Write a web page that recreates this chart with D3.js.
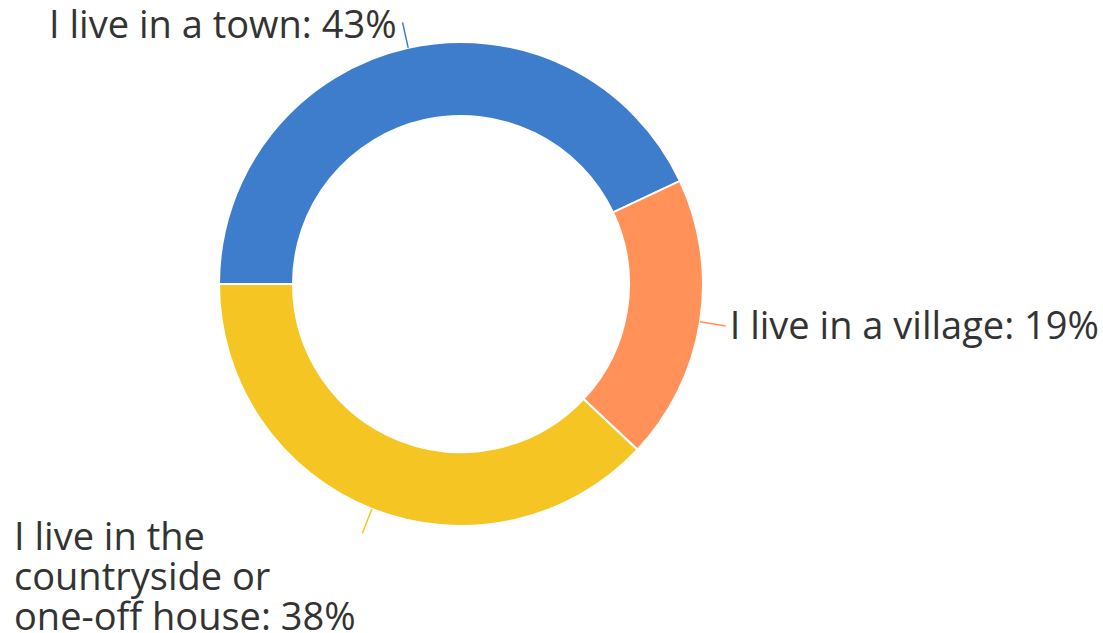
<!DOCTYPE html>
<html>
<head>
<meta charset="utf-8">
<script src="https://cdn.jsdelivr.net/npm/d3@7"></script>
<style>
  html, body { margin: 0; padding: 0; background: #fff; }
  svg { display: block; }
</style>
</head>
<body>
<div id="container"></div>
<script>
(function(){

    const categories = ["I live in a town", "I live in a village", "I live in the countryside or one-off house"];
    const values     = [43, 19, 38];
    const colors     = ["#3d7dcc", "#ff9159", "#f4c523"];
    // label lines, already wrapped like the original
    const labelLines = [
        ["I live in a town: 43%"],
        ["I live in a village: 19%"],
        ["I live in the", "countryside or", "one-off house: 38%"]
    ];

    const width = 1103;
    const height = 633;
    const cx = 461, cy = 284;
    const outerR = 242, innerR = 168;
    const leader = 26;
    const fontSize = 38;
    const lineH = 40;

    const data = categories.map((c, i) => ({name: c, value: values[i], color: colors[i], lines: labelLines[i]}));

    const svg = d3.select("#container").append("svg")
        .attr("width", width)
        .attr("height", height);

    const g = svg.append("g").attr("transform", `translate(${cx},${cy})`);

    const pie = d3.pie()
        .value(d => d.value)
        .sort(null)
        .startAngle(-Math.PI / 2)
        .endAngle(3 * Math.PI / 2);

    const arc = d3.arc().innerRadius(innerR).outerRadius(outerR);
    const arcs = pie(data);

    g.selectAll("path.slice")
        .data(arcs)
        .join("path")
        .attr("class", "slice")
        .attr("d", arc)
        .attr("fill", d => d.data.color)
        .attr("stroke", "#fff")
        .attr("stroke-width", 2);

    function pt(a, r) { return [r * Math.sin(a), -r * Math.cos(a)]; }

    // leader lines
    g.selectAll("line.leader")
        .data(arcs)
        .join("line")
        .attr("class", "leader")
        .attr("x1", d => pt((d.startAngle + d.endAngle) / 2, outerR)[0])
        .attr("y1", d => pt((d.startAngle + d.endAngle) / 2, outerR)[1])
        .attr("x2", d => pt((d.startAngle + d.endAngle) / 2, outerR + leader)[0])
        .attr("y2", d => pt((d.startAngle + d.endAngle) / 2, outerR + leader)[1])
        .attr("stroke", d => d.data.color)
        .attr("stroke-width", 1.5);

    // labels
    const labels = g.selectAll("text.lbl")
        .data(arcs)
        .join("text")
        .attr("class", "lbl")
        .style("font-family", "'Open Sans', sans-serif")
        .style("font-size", fontSize + "px")
        .attr("fill", "#333");

    labels.each(function(d, i) {
        const mid = (d.startAngle + d.endAngle) / 2;
        const [ex, ey] = pt(mid, outerR + leader);
        const t = d3.select(this);
        let x, y, anchor;
        if (i === 0) { anchor = "end"; x = ex - 6; y = ey + 16; }
        else if (i === 1) { anchor = "start"; x = ex + 4; y = ey + 13; }
        else { anchor = "start"; x = 14 - cx; y = ey + 17; }
        t.attr("text-anchor", anchor);
        d.data.lines.forEach((ln, k) => {
            t.append("tspan").attr("x", x).attr("y", y + k * lineH).text(ln);
        });
    });

})();
</script>
</body>
</html>
